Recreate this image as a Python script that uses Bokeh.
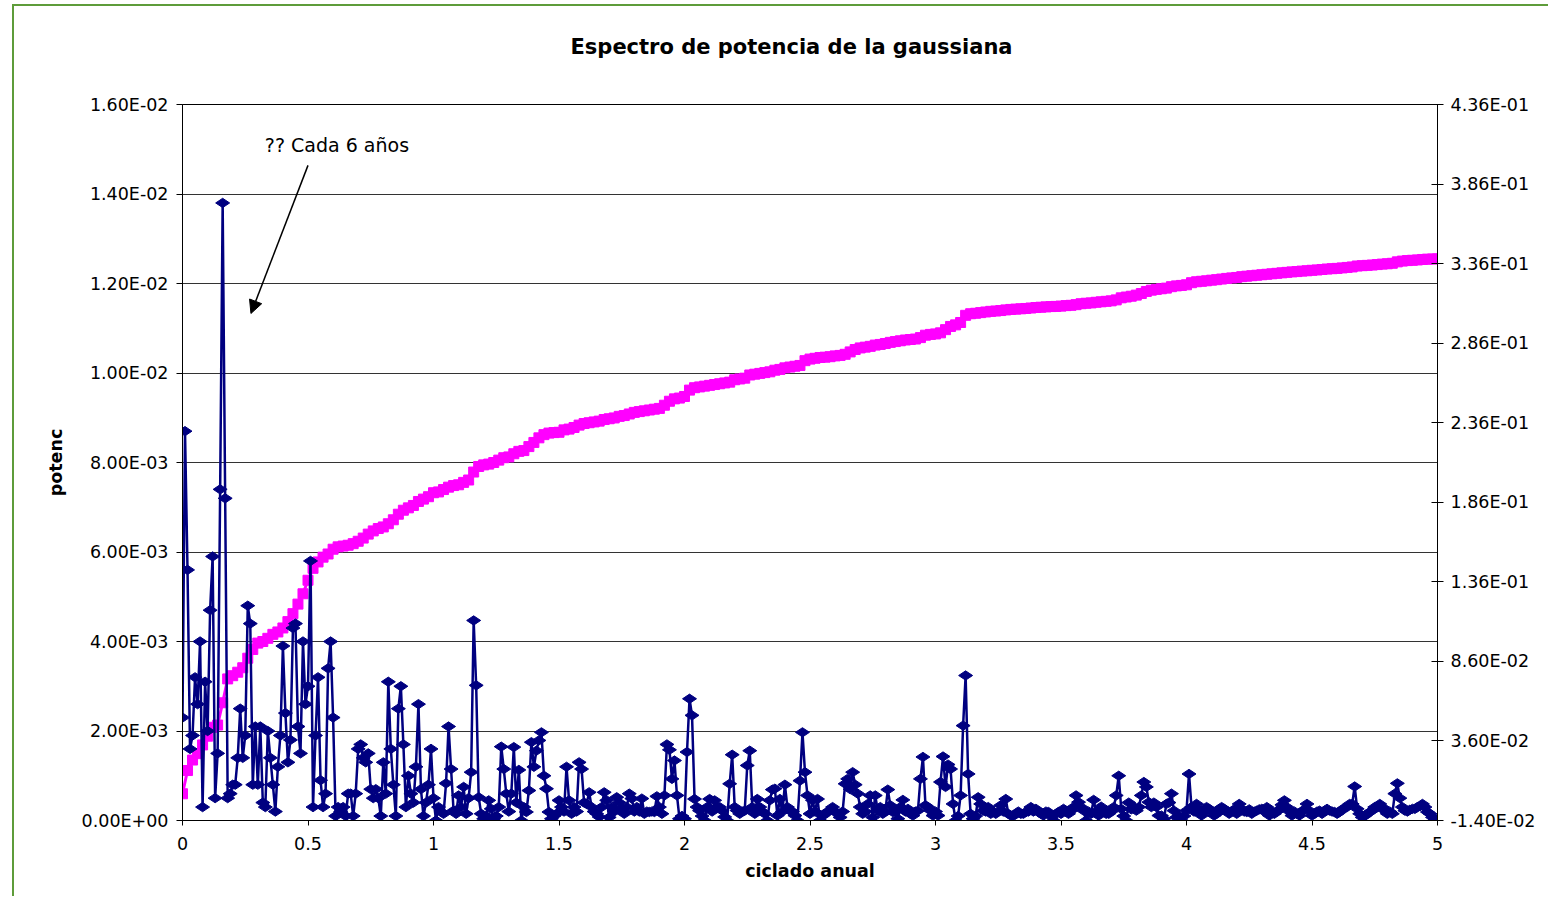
import numpy as np
from bokeh.plotting import figure
from bokeh.models import (Range1d, LinearAxis, FixedTicker, CustomJSTickFormatter,
                          Label, Arrow, NormalHead, Title)
from bokeh.embed import file_html
from bokeh.resources import INLINE

# ---------------- texts ----------------
TITLE = "Espectro de potencia de la gaussiana"
X_LABEL = "ciclado anual"
Y_LABEL = "potenc"
NOTE = "?? Cada 6 años"

# ---------------- data ----------------
# power spectrum (left axis), one value every 0.01 cycles/year, in units of 1e-4
x_step_potencia = 0.01
potencia_e4 = [
    23, 87, 56, 16, 19, 32, 26, 40, 3, 31,
    20, 47, 59, 5, 15, 74, 138, 72, 5, 6,
    8, 8, 14, 25, 14, 19, 48, 44, 8, 21,
    8, 21, 4, 3, 20, 14, 8, 2, 12, 19,
    39, 24, 13, 18, 43, 44, 21, 15, 40, 26,
    30, 58, 3, 19, 32, 9, 3, 6, 34, 40,
    23, 1, 3, 2, 3, 1, 6, 6, 1, 6,
    16, 17, 14, 13, 15, 7, 5, 7, 5, 1,
    13, 6, 31, 16, 8, 1, 25, 30, 17, 3,
    10, 6, 4, 12, 26, 7, 1, 4, 8, 16,
    5, 0, 3, 2, 1.5, 8.3, 21, 11.5, 2.2, 1.5,
    5.6, 3, 7.5, 1.5, 5, 10.8, 44.7, 30.2, 5.2, 1.5,
    0.4, 1, 4.5, 2.6, 0.4, 1, 3, 16.5, 11.5, 6,
    2, 6, 16.4, 4, 11.3, 0, 3, 1.9, 6.7, 17.5,
    12, 15.6, 17.9, 19.7, 10, 7.1, 1.9, 0.4, 1, 1.5,
    4.5, 3, 2, 12, 4.5, 1.5, 3, 2, 13, 11.5,
    4, 3.7, 6.3, 3, 2, 1.5, 0.8, 3, 6.3, 4.5,
    0.7, 3, 2, 5.2, 4, 2.6, 1.5, 3, 6, 4.9,
    2, 3, 2, 4.9, 1.5, 2, 1.9, 2, 1.9, 5.4,
    3, 1.5, 5.6, 17, 15.8, 9.3, 13.4, 5.6, 0.4, 1,
    0.4, 15.3, 27.2, 23.5, 4.8, 3, 2.2, 1, 0, 3,
    4.8, 2, 4.5, 3, 3, 2.2, 0.8, 0, 8.2, 14.7,
    3, 2.2, 1.5, 2, 2.2, 12.3, 15.6, 3, 1.5, 4.8,
    3, 2, 1.5, 0, 4.5, 6.9, 7.1, 1.1, 4.8, 2,
    8, 3, 2.2, 2, 1.1, 0, 8.9, 19.7, 10.8, 5.6,
    1.5, 4.5, 2, 4.8, 0, 1, 1.5, 2, 2.2, 3,
    2, 1.5, 0.7, 2, 8.2, 9.3, 7, 10.8, 8, 6,
    3, 1.5, 2, 3.7, 5.6, 0.7, 5.6, 2.2, 3, 1.5,
    2, 6.9, 3.4, 1.9, 2, 0.4, 3, 4.6, 2, 2.6,
    1.5, 1.1, 2, 2.2, 9.3, 14.2, 3.4, 3, 2.2, 1.1,
    2, 1.1, 8.6, 14.3, 7.5, 12.5, 11.5, 3.7, 0, 1,
    5.6, 21.2, 32.4, 10.4, 1.5, 0.4, 1, 5.2, 3.7, 2.2,
    2, 3, 1.5, 2, 1.5, 2, 3.4, 2, 4.8, 1.5,
    1.1, 1, 1.5, 2, 1.5, 1.5, 1.9, 2, 3, 2,
    2.6, 1.9, 1.5, 1.1, 2, 1.9, 1, 0, 1.5, 1.9,
    1.5, 2.6, 2, 1.5, 2.2, 3, 5.6, 4.1, 3, 2.2,
    0, 2, 1.5, 4.6, 2, 1.1, 3.1, 2.2, 1.5, 1.5,
    2, 3, 5.6, 10, 2.6, 1, 0, 4, 2.5, 3,
    2.2, 3, 5.6, 8.6, 7.5, 4.1, 3, 4, 3, 1.1,
    1.1, 0.4, 3.7, 4, 6, 2.2, 0.7, 1, 0, 1,
    2.2, 10.4, 3, 2, 3.7, 2.2, 1.1, 1.9, 3, 2.6,
    2, 1.1, 1.5, 2.5, 3, 2.6, 2.2, 1.5, 2, 2.5,
    1.5, 3.7, 2.6, 2, 1.9, 2.5, 1.5, 2, 2.2, 2.5,
    2.6, 2, 3, 1.1, 2, 1.5, 2, 2.5, 3.5, 4.5,
    3, 2, 1.1, 2, 1.5, 1.1, 2, 2.5, 3.7, 2.2,
    1.1, 1.5, 2, 2.2, 1.5, 2.2, 2.6, 2.2, 2, 1.9,
    1.5, 1.9, 2.5, 2.8, 3, 3.7, 3.7, 7.6, 2.6, 1.5,
    0.7, 1, 1.5, 1.9, 2.2, 3, 3, 3.7, 3, 2.2,
    1.5, 2, 1.5, 6, 8.3, 5, 3, 2.2, 2, 2.4,
    2.6, 2.6, 3, 3.2, 3.7, 3, 1.9, 1.5, 0.7, 0.4,
    0,
]

# accumulated power (right axis), one value every 0.02 cycles/year, in units of 1e-3
x_step_acum = 0.02
acumulado_e3 = [
    2.8, 17.4, 24, 28, 33.5, 39, 44.6, 46, 60, 75,
    77, 79.2, 82, 88, 93.5, 97.5, 98.5, 100.5, 103, 104.5,
    107, 111, 116, 122, 128.5, 137, 144.5, 148.5, 151.5, 153.5,
    156.5, 158, 158.5, 159, 160, 161.5, 163.5, 166, 168, 169.5,
    170.5, 172.5, 175, 178.5, 181, 182.5, 184, 186.5, 188, 189.5,
    192, 192.5, 194, 195.5, 196.5, 197, 198.5, 200, 205, 208.5,
    209.5, 210, 211, 212.5, 214, 214.5, 216.5, 218, 218.5, 221,
    223.6, 226.5, 228.5, 229.5, 229.8, 230, 231.5, 232, 233, 234.5,
    235.5, 236, 236.5, 237, 238, 238.5, 239, 240, 240.5, 241.5,
    242.5, 243, 243.5, 244, 244.5, 245, 247, 249.5, 251, 251.5,
    252.5, 256.5, 258, 258.5, 259, 259.5, 260, 260.5, 261, 261.5,
    263, 263.5, 264, 266, 266.5, 267, 267.5, 268, 269, 269.5,
    270.5, 271, 271.5, 272, 275, 276, 276.5, 277, 277.2, 277.5,
    278, 278.3, 279, 280.5, 282, 283, 283.5, 284, 284.8, 285.2,
    285.8, 286.5, 287, 287.5, 288, 288.3, 288.6, 289.5, 291, 291.5,
    291.8, 292.5, 294.5, 296.5, 297.5, 299, 303.5, 304.5, 304.8, 305.2,
    305.6, 306, 306.2, 306.5, 306.9, 307.2, 307.4, 307.6, 307.8, 308.1,
    308.4, 308.6, 308.8, 309, 309.1, 309.3, 309.6, 309.8, 310.2, 310.8,
    311.1, 311.3, 311.7, 312, 312.3, 312.6, 313.2, 314.5, 315, 315.5,
    316.2, 317.2, 318.5, 319.3, 319.8, 320.2, 320.6, 321.5, 322, 322.3,
    322.7, 324, 324.6, 324.9, 325.2, 325.6, 325.9, 326.3, 326.7, 327,
    327.3, 327.8, 328.1, 328.4, 328.7, 329, 329.3, 329.6, 329.9, 330.2,
    330.5, 330.8, 331, 331.3, 331.5, 331.8, 332, 332.3, 332.6, 332.8,
    333, 333.3, 333.6, 333.9, 334.5, 334.7, 334.9, 335.1, 335.4, 335.7,
    335.9, 336.2, 337.1, 337.6, 337.9, 338.1, 338.3, 338.6, 338.8, 338.9,
    339,
]

x_ticks = [0, 0.5, 1, 1.5, 2, 2.5, 3, 3.5, 4, 4.5, 5]
y_left_ticks = [0, 0.002, 0.004, 0.006, 0.008, 0.010, 0.012, 0.014, 0.016]
y_right_ticks = [-0.014, 0.036, 0.086, 0.136, 0.186, 0.236, 0.286, 0.336, 0.386, 0.436]

# annotation placement (data coordinates of the left axis)
NOTE_X, NOTE_Y = 0.328, 0.01509
ARROW_X0, ARROW_Y0, ARROW_X1, ARROW_Y1 = 0.50, 0.01464, 0.2727, 0.01133

# ---------------- figure ----------------
FONT = "DejaVu Sans"
p = figure(width=1548, height=896, output_backend="svg", toolbar_location=None,
           x_range=Range1d(0, 5), y_range=Range1d(0, 0.016),
           min_border_left=182, min_border_right=111,
           min_border_top=104, min_border_bottom=76)
p.extra_y_ranges = {"acum": Range1d(-0.014, 0.436)}
p.background_fill_color = None
p.border_fill_color = None
p.outline_line_color = "black"
p.styles = {"box-shadow": "inset 12px 0 0 0 #ffffff, inset 0 4px 0 0 #ffffff, "
                          "inset 14px 6px 0 0 #5e9c3a"}

# title (an empty spacer title sits between the real title and the frame)
p.title.text = TITLE
p.title.text_font = FONT
p.title.text_font_style = "bold"
p.title.text_font_size = "21px"
p.title.text_color = "black"
p.title.align = "left"
p.title.offset = 388
try:
    p.title.standoff = 10
except Exception:
    pass
spacer = Title(text=" ", text_font_size="10px")
try:
    spacer.standoff = 28
except Exception:
    pass
p.add_layout(spacer, "above")

EXP_JS = """
const s = tick.toExponential(2).split('e');
const e = parseInt(s[1]);
const a = Math.abs(e);
return s[0] + 'E' + (e < 0 ? '-' : '+') + (a < 10 ? '0' : '') + a;
"""

p.yaxis.ticker = FixedTicker(ticks=y_left_ticks)
p.yaxis.formatter = CustomJSTickFormatter(code=EXP_JS)
p.yaxis.axis_label = Y_LABEL
p.yaxis.major_tick_in = 0
p.yaxis.major_tick_out = 6
p.yaxis.major_label_standoff = 8
p.yaxis.axis_label_standoff = 13

right = LinearAxis(y_range_name="acum", ticker=FixedTicker(ticks=y_right_ticks),
                   formatter=CustomJSTickFormatter(code=EXP_JS))
right.major_tick_in = 6
right.major_tick_out = 6
right.major_label_standoff = 7
p.add_layout(right, "right")

p.xaxis.ticker = FixedTicker(ticks=x_ticks)
p.xaxis.formatter = CustomJSTickFormatter(code="return String(Math.round(tick*10)/10);")
p.xaxis.axis_label = X_LABEL
p.xaxis.major_tick_in = 0
p.xaxis.major_tick_out = 5
p.xaxis.major_label_standoff = 11
p.xaxis.axis_label_standoff = 8

for ax in [p.xaxis[0], p.yaxis[0], right]:
    ax.axis_line_color = "black"
    ax.major_tick_line_color = "black"
    ax.minor_tick_line_color = None
    ax.major_label_text_font = FONT
    ax.major_label_text_font_size = "17.5px"
    ax.major_label_text_color = "black"
    ax.axis_label_text_font = FONT
    ax.axis_label_text_font_size = "17.5px"
    ax.axis_label_text_font_style = "bold"
    ax.axis_label_text_color = "black"

p.xgrid.visible = False
p.ygrid[0].ticker = FixedTicker(ticks=y_left_ticks)
p.ygrid.grid_line_color = "#333333"
p.ygrid.grid_line_width = 1

# ---------------- series ----------------
xa = [i * x_step_acum for i in range(len(acumulado_e3))]
ya = [v * 1e-3 for v in acumulado_e3]
p.line(xa, ya, y_range_name="acum", line_color="#FF00FF", line_width=3)
p.scatter(xa, ya, y_range_name="acum", marker="square", size=10,
          fill_color="#FF00FF", line_color="#FF00FF")

xp = [i * x_step_potencia for i in range(len(potencia_e4))]
yp = [v * 1e-4 for v in potencia_e4]
p.line(xp, yp, line_color="#000080", line_width=2.5)
p.scatter(xp, yp, marker="diamond", angle=np.pi / 2, size=14,
          fill_color="#000080", line_color="#000080")

# ---------------- annotations ----------------
p.add_layout(Label(x=NOTE_X, y=NOTE_Y, text=NOTE, text_font=FONT,
                   text_font_size="19px", text_align="left", text_baseline="middle",
                   text_color="black"))
p.add_layout(Arrow(end=NormalHead(size=13, fill_color="black", line_color="black"),
                   x_start=ARROW_X0, y_start=ARROW_Y0, x_end=ARROW_X1, y_end=ARROW_Y1,
                   line_color="black", line_width=1.5))

with open("out.html", "w", encoding="utf-8") as f:
    f.write(file_html(p, INLINE))
